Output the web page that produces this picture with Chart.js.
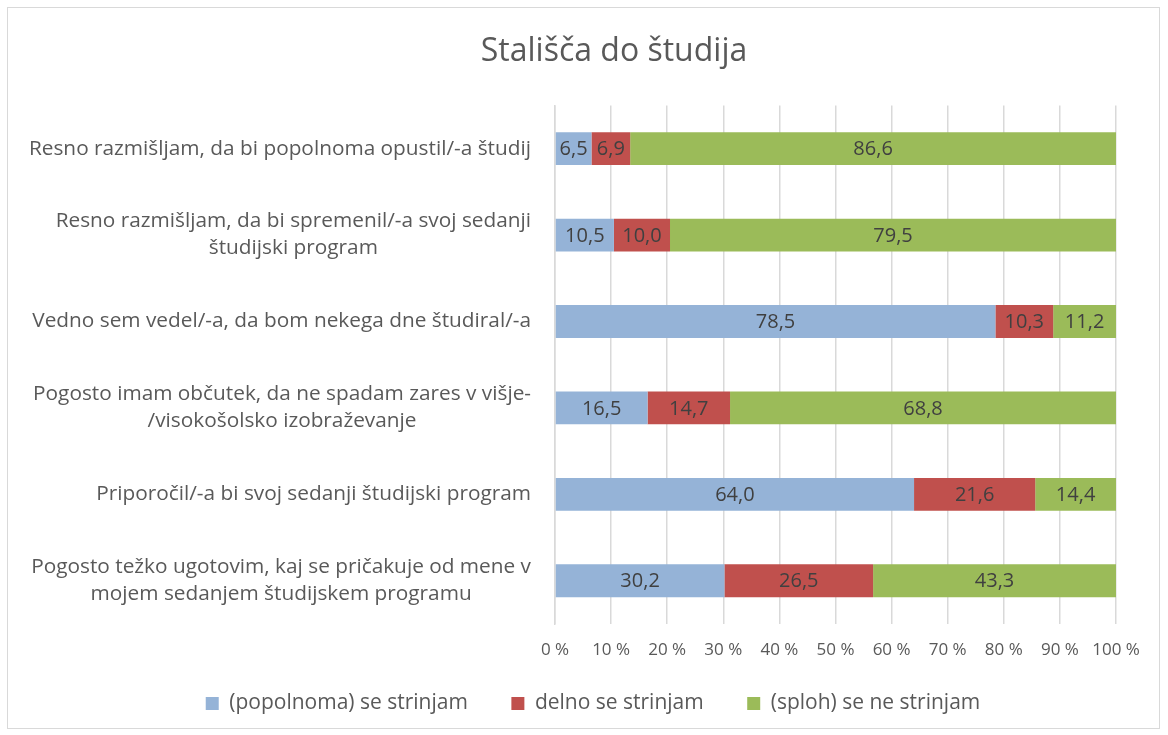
<!DOCTYPE html>
<html lang="sl">
<head>
    <meta charset="UTF-8">
    <title>Stališča do študija</title>
    <style>
        html, body { margin: 0; padding: 0; background: #fff; }
        .chart-container { position: relative; width: 1153px; height: 722px; margin: 7px 0 0 7px; border: 1px solid #d9d9d9; box-sizing: border-box; }
    </style>
</head>
<body>
    <div class="chart-container">
        <canvas id="chart"></canvas>
    </div>

    <script src="https://cdn.jsdelivr.net/npm/chart.js@4.4.1/dist/chart.umd.js"></script>
    <script>
        const categories = [
            ['Resno razmišljam, da bi popolnoma opustil/-a študij'],
            ['Resno razmišljam, da bi spremenil/-a svoj sedanji', 'študijski program'],
            ['Vedno sem vedel/-a, da bom nekega dne študiral/-a'],
            ['Pogosto imam občutek, da ne spadam zares v višje-', '/visokošolsko izobraževanje'],
            ['Priporočil/-a bi svoj sedanji študijski program'],
            ['Pogosto težko ugotovim, kaj se pričakuje od mene v', 'mojem sedanjem študijskem programu']
        ];
        const agree = [6.5, 10.5, 78.5, 16.5, 64.0, 30.2];
        const partly = [6.9, 10.0, 10.3, 14.7, 21.6, 26.5];
        const disagree = [86.6, 79.5, 11.2, 68.8, 14.4, 43.3];
        const seriesNames = ['(popolnoma) se strinjam', 'delno se strinjam', '(sploh) se ne strinjam'];
        const tickValues = [0, 10, 20, 30, 40, 50, 60, 70, 80, 90, 100];

        const FONT = '"Open Sans", Calibri, sans-serif';
        const TEXT = '#595959';
        const LEGEND_SIZE = 21;
        const LEGEND_PAD = 12;

        // widen the gaps between legend items and nudge the row left with trailing spaces
        const measure = document.createElement('canvas').getContext('2d');
        measure.font = LEGEND_SIZE + 'px ' + FONT;
        const spaceW = measure.measureText('\u2002').width;
        const extraGap = [30, 30, 40];
        const legendText = seriesNames.map((n, i) => n + '\u2002'.repeat(Math.max(0, Math.round(extraGap[i] / spaceW))));

        // value labels inside each bar segment
        const barLabels = {
            id: 'barLabels',
            afterDatasetsDraw(chart) {
                const ctx = chart.ctx;
                ctx.save();
                ctx.font = '20px ' + FONT;
                ctx.fillStyle = '#404040';
                ctx.textAlign = 'center';
                ctx.textBaseline = 'middle';
                chart.data.datasets.forEach((ds, i) => {
                    chart.getDatasetMeta(i).data.forEach((bar, j) => {
                        const x = (bar.x + bar.base) / 2;
                        ctx.fillText(ds.data[j].toFixed(1).replace('.', ','), x, bar.y + 1);
                    });
                });
                ctx.restore();
            }
        };

        // category labels: block right-aligned to the axis, lines centred in the block
        const categoryLabels = {
            id: 'categoryLabels',
            afterDraw(chart) {
                const ctx = chart.ctx;
                const yScale = chart.scales.y;
                const right = chart.chartArea.left - 24;
                const lh = 27;
                ctx.save();
                ctx.font = '20.8px ' + FONT;
                ctx.fillStyle = TEXT;
                ctx.textAlign = 'center';
                ctx.textBaseline = 'middle';
                chart.data.labels.forEach((lines, i) => {
                    const y = yScale.getPixelForTick(i);
                    const w = Math.max(...lines.map(l => ctx.measureText(l).width));
                    const cx = right - w / 2;
                    const y0 = y - (lines.length - 1) * lh / 2;
                    lines.forEach((l, k) => ctx.fillText(l, cx, y0 + k * lh));
                });
                ctx.restore();
            }
        };

        new Chart(document.getElementById('chart'), {
            type: 'bar',
            data: {
                labels: categories,
                datasets: [
                    { label: seriesNames[0], data: agree, backgroundColor: '#95b3d7' },
                    { label: seriesNames[1], data: partly, backgroundColor: '#c0504d' },
                    { label: seriesNames[2], data: disagree, backgroundColor: '#9bbb59' }
                ]
            },
            options: {
                indexAxis: 'y',
                responsive: true,
                maintainAspectRatio: false,
                animation: false,
                categoryPercentage: 0.38,
                barPercentage: 1,
                layout: { padding: { left: 104, right: 43, top: 7, bottom: 4 } },
                scales: {
                    x: {
                        stacked: true,
                        min: 0,
                        max: 100,
                        afterBuildTicks(axis) { axis.ticks = tickValues.map(v => ({ value: v })); },
                        afterFit(axis) { axis.height = 57; },
                        grid: { color: '#d9d9d9', lineWidth: 1.5, drawTicks: false },
                        border: { display: false },
                        ticks: {
                            color: TEXT,
                            font: { size: 17, family: FONT },
                            padding: 16,
                            maxRotation: 0,
                            callback: v => v + ' %'
                        }
                    },
                    y: {
                        stacked: true,
                        grid: { display: false, drawTicks: false },
                        border: { color: '#d9d9d9', width: 1.5 },
                        afterFit(axis) { axis.width = 443; },
                        ticks: { display: false }
                    }
                },
                plugins: {
                    title: {
                        display: true,
                        text: 'Stališča do študija',
                        color: TEXT,
                        font: { size: 32, family: FONT, weight: 'normal' },
                        padding: { top: 18, bottom: 34 }
                    },
                    legend: {
                        position: 'bottom',
                        labels: {
                            color: TEXT,
                            font: { size: LEGEND_SIZE, family: FONT },
                            boxWidth: 13,
                            boxHeight: 13,
                            padding: LEGEND_PAD,
                            generateLabels(chart) {
                                return Chart.defaults.plugins.legend.labels.generateLabels(chart)
                                    .map((item, i) => Object.assign(item, { text: legendText[i], lineWidth: 0 }));
                            }
                        }
                    },
                    tooltip: { enabled: false }
                }
            },
            plugins: [barLabels, categoryLabels]
        });
    </script>
</body>
</html>
